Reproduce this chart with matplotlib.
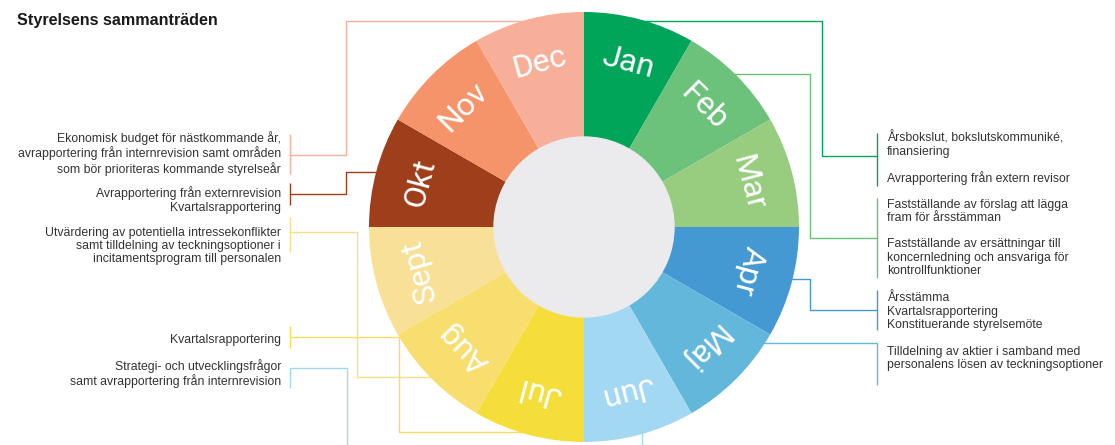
import math
import matplotlib.pyplot as plt
from matplotlib.patches import Circle

# Styrelsens årshjul
months = ["Jan", "Feb", "Mar", "Apr", "Maj", "Jun", "Jul", "Aug", "Sept", "Okt", "Nov", "Dec"]
month_share = [1, 1, 1, 1, 1, 1, 1, 1, 1, 1, 1, 1]
month_colors = ["#00a55a", "#6cc27a", "#98cd80", "#4499d2", "#62b7da", "#a3d8f2",
                "#f5dd3a", "#f8de6e", "#f8e096", "#9e3e1b", "#f5936b", "#f8af99"]

right_texts = [
    "Årsbokslut, bokslutskommuniké,\nfinansiering",
    "Avrapportering från extern revisor",
    "Fastställande av förslag att lägga\nfram för årsstämman",
    "Fastställande av ersättningar till\nkoncernledning och ansvariga för\nkontrollfunktioner",
    "Årsstämma\nKvartalsrapportering\nKonstituerande styrelsemöte",
    "Tilldelning av aktier i samband med\npersonalens lösen av teckningsoptioner",
]
left_texts = [
    "Ekonomisk budget för nästkommande år,\navrapportering från internrevision samt områden\nsom bör prioriteras kommande styrelseår",
    "Avrapportering från externrevision\nKvartalsrapportering",
    "Utvärdering av potentiella intressekonflikter\nsamt tilldelning av teckningsoptioner i\nincitamentsprogram till personalen",
    "Kvartalsrapportering",
    "Strategi- och utvecklingsfrågor\nsamt avrapportering från internrevision",
]

W, H = 1115, 445
cx, cy = 584, 227          # centrum i pixlar (y nedåt)
R, r_in = 215, 90

fig = plt.figure(figsize=(W / 100, H / 100), dpi=100)
ax = fig.add_axes([0, 0, 1, 1])


def Y(y):
    return H - y


def path(pts, color):
    xs = [p[0] for p in pts]
    ys = [Y(p[1]) for p in pts]
    ax.plot(xs, ys, color=color, lw=1.0, zorder=1, solid_capstyle="butt")


# kopplingslinjer (ritas under hjulet)
path([(530, 21), (346, 21), (346, 155), (290, 155)], "#f8b09c")
path([(290, 134), (290, 174)], "#f8b09c")
path([(385, 172), (346, 172), (346, 194), (290, 194)], "#9e3e1b")
path([(290, 183), (290, 205)], "#9e3e1b")
path([(440, 377), (357, 377), (357, 232), (290, 232)], "#f7de85")
path([(290, 217), (290, 252)], "#f7de85")
path([(530, 432), (399, 432), (399, 337), (290, 337)], "#f6dc60")
path([(290, 326), (290, 348)], "#f6dc60")
path([(642, 425), (642, 470), (347, 470), (347, 368), (290, 368), (290, 388)], "#a3d8f2")

path([(630, 21), (822, 21), (822, 156), (877, 156)], "#00a55a")
path([(877, 133), (877, 186)], "#00a55a")
path([(730, 74), (810, 74), (810, 238), (877, 238)], "#6cc27a")
path([(877, 198), (877, 278)], "#6cc27a")
path([(785, 279), (810, 279), (810, 310), (877, 310)], "#4499d2")
path([(877, 290), (877, 330)], "#4499d2")
path([(755, 343), (877, 343), (877, 385)], "#62b7da")

# hjulet
wedges, _ = ax.pie(month_share, colors=month_colors, startangle=90, counterclock=False,
                   radius=R, center=(cx, Y(cy)), wedgeprops=dict(linewidth=0))
for w in wedges:
    w.set_zorder(2)
ax.add_patch(Circle((cx, Y(cy)), r_in, color="#ebebed", zorder=3))

for i, m in enumerate(months):
    ang = 90 - 30 * i - 15
    tx = cx + 170 * math.cos(math.radians(ang))
    ty = Y(cy) + 170 * math.sin(math.radians(ang))
    ax.text(tx, ty, m, rotation=ang - 90, rotation_mode="anchor", ha="center", va="center",
            color="white", fontsize=23, family="Roboto", fontweight="normal", zorder=4)

# texter
tfont = dict(family="Liberation Sans", fontsize=8.8, color="#333333", linespacing=1.12)
right_y = [144.5, 178, 211.5, 257.5, 311.5, 358.5]
for t, y in zip(right_texts, right_y):
    ax.text(887, Y(y), t, ha="left", va="center", **tfont)
left_y = [153.5, 200, 246, 340, 373.5]
for t, y in zip(left_texts, left_y):
    ax.text(281, Y(y), t, ha="right", va="center", multialignment="right", **tfont)

ax.text(17, Y(20), "Styrelsens sammanträden", ha="left", va="center", fontsize=11.6,
        fontweight="bold", family="Liberation Sans", color="#1a1a1a")

ax.set_xlim(0, W)
ax.set_ylim(0, H)
ax.set_aspect("auto")
ax.axis("off")
fig.savefig("out.png", dpi=100)
